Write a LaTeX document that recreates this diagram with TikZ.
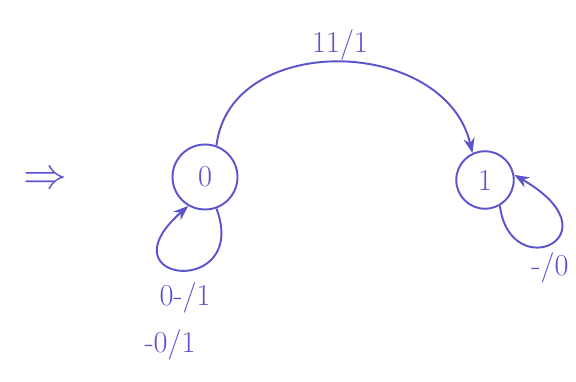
\documentclass[tikz,border=0pt]{standalone}
\usepackage{tikz}
\usetikzlibrary{positioning,arrows.meta,calc}
\definecolor{InkBlue}{RGB}{92,84,204}

\begin{document}
\begin{tikzpicture}[every node/.style={font=\LARGE, align=center, text=InkBlue},
    state/.style={draw=InkBlue, line width=1.1pt, circle, inner sep=0pt},
    link/.style={-{Stealth[length=3mm]}, line width=1.1pt, InkBlue}]
  \useasboundingbox (0,0) rectangle (11.52,7.62);
  \node[font=\Huge] (imp) at (0.9,4.02) {$\Rightarrow$};
  \node[state, minimum size=1.3cm] (s0) at (4.1,4.08) {0};
  \node[state, minimum size=1.15cm] (s1) at (9.7,4.02) {1};
  \draw[link] (s0.70) .. controls (4.6,7.0) and (8.9,6.9) .. (s1.115);
  \draw[link] (s0.290) .. controls (5.0,1.65) and (2.0,1.95) .. (s0.240);
  \draw[link] (s1.300) .. controls (10.2,1.9) and (12.4,2.9) .. (s1.10);
  \node (l01) at (6.8,6.72) {11/1};
  \node (l00a) at (3.7,1.66) {0-/1};
  \node (l00b) at (3.4,0.72) {-0/1};
  \node (l11) at (11.0,2.26) {-/0};
\end{tikzpicture}
\end{document}
